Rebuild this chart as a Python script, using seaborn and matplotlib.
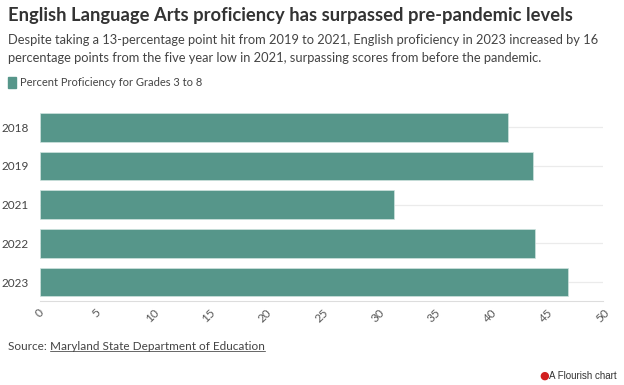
import matplotlib
matplotlib.use("Agg")
import matplotlib.pyplot as plt
import pandas as pd
import seaborn as sns

years = ["2018", "2019", "2021", "2022", "2023"]
proficiency = [41.6, 43.8, 31.4, 44.0, 46.9]
x_ticks = [0, 5, 10, 15, 20, 25, 30, 35, 40, 45, 50]

series_name = "Percent Proficiency for Grades 3 to 8"
title = "English Language Arts proficiency has surpassed pre-pandemic levels"
subtitle_1 = "Despite taking a 13-percentage point hit from 2019 to 2021, English proficiency in 2023 increased by 16"
subtitle_2 = "percentage points from the five year low in 2021, surpassing scores from before the pandemic."

bar_color = "#56968a"
font = ["Lato", "DejaVu Sans"]

sns.set_theme(style="white")
plt.rcParams["font.family"] = font

W, H = 624, 385
df = pd.DataFrame({"Year": years, "Value": proficiency})

fig = plt.figure(figsize=(W / 100, H / 100), dpi=100)
ax = fig.add_axes([40 / W, 1 - 301 / H, 563 / W, 195 / H])

# light guide lines behind each category
for i in range(len(years)):
    ax.axhline(i, color="#ebebeb", lw=0.9, zorder=0)

sns.barplot(data=df, x="Value", y="Year", orient="h", color=bar_color,
            width=0.74, saturation=1, edgecolor="#cfe3df", linewidth=0.5, ax=ax, zorder=2)

ax.set_xlim(0, 50)
ax.set_ylim(4.49, -0.55)
ax.set_xticks(x_ticks)
ax.set_xticklabels([str(t) for t in x_ticks], rotation=45, ha="center", va="top",
                   fontsize=8.5, color="#555555")
ax.tick_params(axis="x", length=3, color="#cccccc", pad=1)
ax.tick_params(axis="y", length=0, pad=8, labelsize=8.5, labelcolor="#444444")
ax.set_xlabel("")
ax.set_ylabel("")
for side in ["top", "right", "left"]:
    ax.spines[side].set_visible(False)
ax.spines["bottom"].set_color("#dddddd")
ax.spines["bottom"].set_linewidth(0.8)

# header
fig.text(8 / W, 1 - 16 / H, title, fontsize=13.2, fontweight="bold", color="#333333", va="center")
fig.text(8 / W, 1 - 40 / H, subtitle_1, fontsize=9.3, color="#444444", va="center")
fig.text(8 / W, 1 - 58 / H, subtitle_2, fontsize=9.3, color="#444444", va="center")

# legend swatch
fig.patches.append(plt.Rectangle((8 / W, 1 - 88 / H), 8 / W, 11 / H, transform=fig.transFigure,
                                 color=bar_color, figure=fig))
fig.text(20 / W, 1 - 82 / H, series_name, fontsize=8, color="#444444", va="center")

# source line with underlined link
src = fig.text(8 / W, 1 - 347 / H, "Source: ", fontsize=8.5, color="#444444", va="center")
fig.canvas.draw()
bb = src.get_window_extent().transformed(fig.transFigure.inverted())
link = fig.text(bb.x1, 1 - 347 / H, "Maryland State Department of Education", fontsize=8.5,
                color="#444444", va="center")
fig.canvas.draw()
lb = link.get_window_extent().transformed(fig.transFigure.inverted())
fig.add_artist(plt.Line2D([lb.x0, lb.x1], [lb.y0 + 0.004, lb.y0 + 0.004], transform=fig.transFigure,
                          color="#666666", lw=0.7))

fig.text(617 / W, 1 - 376 / H, "A Flourish chart", fontsize=7, color="#333333", ha="right", va="center",
         family=["Liberation Sans", "DejaVu Sans"])
fig.text(549 / W, 1 - 376 / H, "\u25cf", fontsize=8, color="#d11f1f", ha="right", va="center",
         family=["DejaVu Sans"])

fig.savefig("out.png", dpi=100)
